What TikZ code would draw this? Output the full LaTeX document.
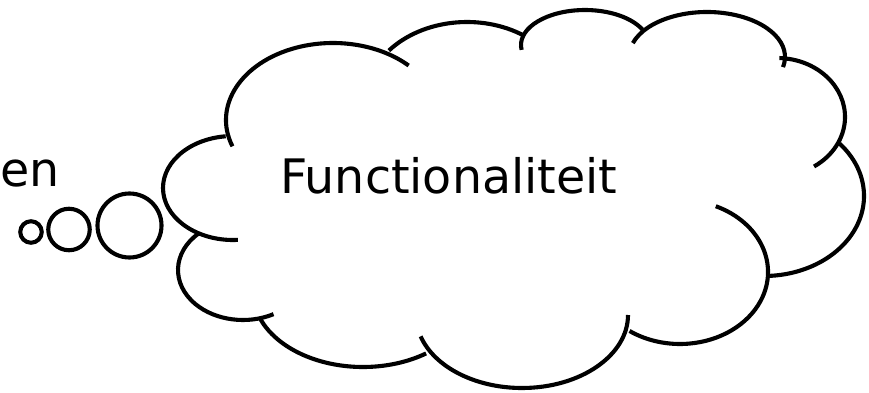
\documentclass[tikz,border=0pt]{standalone}
\usepackage{fontspec}
\setmainfont{DejaVu Sans}
\usepackage{tikz}
\usetikzlibrary{positioning}

\begin{document}
\begin{tikzpicture}[x=1pt, y=-1pt, line width=4.1pt,
    bubble/.style={circle, draw, inner sep=0pt},
    label/.style={inner sep=0pt, font=\fontsize{47.5}{56}\selectfont}]
                \useasboundingbox (0,0) rectangle (869,393);

                % cloud lobes: centre / radii / angles
                \foreach \cx/\cy/\rx/\ry/\a/\b in {
                        333/120/107/77/160/315,
                        467/102/102/80/220/304,
                        585/45/64/35/172/334,
                        707/57/78/45/198/373,
                        777/117/68/59/272/417,
                        764/196/100/80/319/448,
                        680/272/88/72/294/485,
                        522/315/106/73/0/163,
                        363/292/110/75/55/160,
                        243/270/65/50/227/62,
                        233/188/70/52/264/86}
                    \draw (\cx,\cy) ++({\rx*cos(\a)},{\ry*sin(\a)})
                        arc[start angle=\a, end angle=\b, x radius=\rx, y radius=\ry];

                \node[label, anchor=base east] (en) at (61.5,186) {en};
                \node[label, anchor=base west] (func) at (278,193) {Functionaliteit};

                \node[bubble, minimum size=21.5pt] (b1) at (31,232) {};
                \node[bubble, minimum size=41.5pt] (b2) at (69,229.5) {};
                \node[bubble, minimum size=64pt] (b3) at (129.5,225.5) {};
            \end{tikzpicture}
\end{document}
